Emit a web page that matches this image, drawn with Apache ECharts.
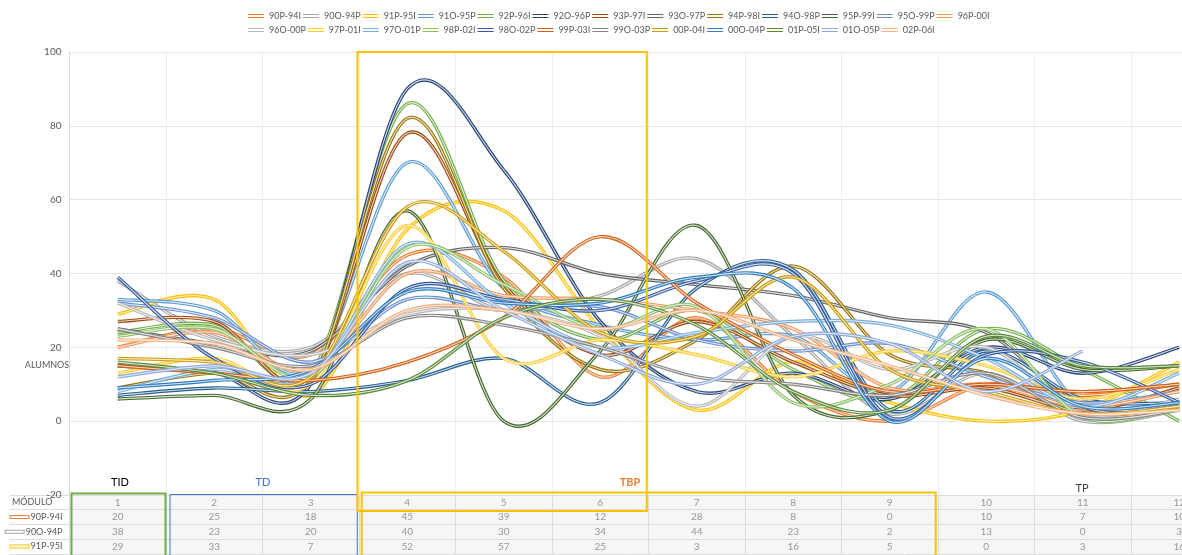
<!DOCTYPE html>
<html>
<head>
<meta charset="utf-8">
<script src="https://cdn.jsdelivr.net/npm/echarts@6/dist/echarts.min.js"></script>
<style>
  html, body { margin: 0; padding: 0; background: #ffffff; }
  #chart { width: 1182px; height: 555px; }
</style>
</head>
<body>
<div id="chart"></div>
<script>
// Módulos (eje horizontal y fila de cabecera de la tabla)
const modulos = [1, 2, 3, 4, 5, 6, 7, 8, 9, 10, 11, 12];

// Alumnos por módulo y promoción
const p90P_94I = [20, 25, 18, 45, 39, 12, 28, 8, 0, 10, 7, 10];
const p90O_94P = [38, 23, 20, 40, 30, 34, 44, 23, 2, 13, 0, 3];
const p91P_95I = [29, 33, 7, 52, 57, 25, 3, 16, 5, 0, 3, 16];
const p91O_95P = [33, 30, 14, 70, 36, 26, 22, 23, 8, 35, 4, 5];
const p92P_96I = [24, 26, 13, 86, 38, 22, 30, 14, 6, 25, 14, 0];
const p92O_96P = [15, 13, 10, 90, 68, 27, 8, 13, 6, 20, 13, 20];
const p93P_97I = [27, 27, 12, 78, 37, 18, 27, 16, 7, 9, 3, 9];
const p93O_97P = [25, 21, 19, 42, 47, 40, 37, 34, 28, 24, 4, 3];
const p94P_98I = [9, 13, 11, 82, 36, 14, 22, 42, 18, 13, 2, 4];
const p94O_98P = [7, 9, 8, 11, 17, 5, 36, 41, 3, 19, 6, 5];
const p95P_99I = [6, 7, 6, 57, 0, 19, 53, 7, 3, 22, 14, 15];
const p95O_99P = [32, 28, 16, 33, 30, 31, 22, 19, 21, 12, 5, 8];
const p96P_00I = [20, 24, 14, 40, 34, 33, 30, 25, 9, 10, 4, 8];
const p96O_00P = [32, 22, 18, 29, 30, 23, 4, 23, 14, 20, 2, 6];
const p97P_01I = [13, 17, 10, 53, 17, 22, 18, 12, 19, 15, 6, 14];
const p97O_01P = [8, 14, 12, 48, 32, 20, 24, 27, 26, 17, 4, 13];
const p98P_02I = [23, 25, 12, 47, 37, 25, 31, 5, 10, 25, 1, 4];
const p98O_02P = [39, 17, 10, 36, 33, 30, 38, 40, 1, 18, 16, 5];
const p99P_03I = [15, 13, 11, 16, 28, 50, 32, 18, 8, 10, 8, 10];
const p99O_03P = [25, 20, 15, 28, 26, 20, 12, 10, 7, 13, 1, 3];
const p00P_04I = [17, 16, 12, 58, 46, 24, 23, 39, 14, 8, 2, 4];
const p00O_04P = [9, 11, 14, 35, 32, 32, 39, 36, 0, 17, 4, 5];
const p01P_05I = [16, 13, 7, 11, 28, 33, 26, 8, 3, 23, 15, 15];
const p01O_05P = [12, 15, 13, 43, 30, 18, 10, 23, 21, 8, 19, null];
const p02P_06I = [22, 21, 14, 30, 30, 25, 30, 22, 15, 7, 2, 3];

const promociones = [
  '90P-94I', '90O-94P', '91P-95I', '91O-95P', '92P-96I', '92O-96P', '93P-97I',
  '93O-97P', '94P-98I', '94O-98P', '95P-99I', '95O-99P', '96P-00I', '96O-00P',
  '97P-01I', '97O-01P', '98P-02I', '98O-02P', '99P-03I', '99O-03P', '00P-04I',
  '00O-04P', '01P-05I', '01O-05P', '02P-06I'
];
const valores = [
  p90P_94I, p90O_94P, p91P_95I, p91O_95P, p92P_96I, p92O_96P, p93P_97I,
  p93O_97P, p94P_98I, p94O_98P, p95P_99I, p95O_99P, p96P_00I, p96O_00P,
  p97P_01I, p97O_01P, p98P_02I, p98O_02P, p99P_03I, p99O_03P, p00P_04I,
  p00O_04P, p01P_05I, p01O_05P, p02P_06I
];

// Paleta de Office (acentos y sus variantes)
const colores = [
  '#ED7D31', '#A5A5A5', '#FFC000', '#5B9BD5', '#70AD47',
  '#264478', '#9E480E', '#636363', '#997300', '#255E91', '#43682B',
  '#698ED0', '#F1975A', '#B7B7B7', '#FFCD33', '#7CAFDD', '#8CC168',
  '#335AA1', '#D35F12', '#848484', '#CC9900', '#327EC2', '#5A8A39',
  '#8FAADC', '#F4B183'
];

const FONT = 'Lato';
const GRID_LEFT = 69.5;
const GRID_RIGHT = -45.5;      // el área de trazado continúa más allá del borde derecho
const PLOT_TOP = 52;
const PLOT_BOTTOM = 495;
const ROW_H = 14.7;

const chart = echarts.init(document.getElementById('chart'), null, { renderer: 'canvas' });

// Curva suavizada tipo hoja de cálculo: tramos Bézier cuyos puntos de control
// siguen la dirección entre los puntos vecinos (1/6 de la diferencia).
// Cada tramo se pinta con trazo doble: línea de color y filete claro encima.
function tramoSuave(vals, color) {
  return function (params, api) {
    const i = params.dataIndex;
    if (i >= vals.length - 1 || vals[i] == null || vals[i + 1] == null) return null;
    const pt = k => api.coord([k, vals[k]]);
    const a = pt(i);
    const b = pt(i + 1);
    const prev = (i > 0 && vals[i - 1] != null) ? pt(i - 1) : a;
    const next = (i + 2 < vals.length && vals[i + 2] != null) ? pt(i + 2) : b;
    const shape = {
      x1: a[0], y1: a[1],
      cpx1: a[0] + (b[0] - prev[0]) / 6, cpy1: a[1] + (b[1] - prev[1]) / 6,
      cpx2: b[0] - (next[0] - a[0]) / 6, cpy2: b[1] - (next[1] - a[1]) / 6,
      x2: b[0], y2: b[1]
    };
    return {
      type: 'group',
      children: [
        { type: 'bezierCurve', shape: shape, style: { stroke: color, lineWidth: 3.4, fill: 'none' } },
        { type: 'bezierCurve', shape: shape, style: { stroke: 'rgba(255,255,255,0.8)', lineWidth: 1.1, fill: 'none' } }
      ]
    };
  };
}

const lineSeries = promociones.map((nombre, i) => ({
  name: nombre,
  type: 'custom',
  xAxisIndex: 0,
  yAxisIndex: 0,
  data: valores[i].map((v, k) => [k, v]),
  encode: { x: 0, y: 1 },
  renderItem: tramoSuave(valores[i], colores[i]),
  itemStyle: { color: colores[i] },
  silent: true,
  z: 2
}));

// Tabla de datos bajo el gráfico
const filasTabla = ['MÓDULO'].concat(promociones);
const celdas = [];
filasTabla.forEach((fila, r) => {
  modulos.forEach((m, c) => {
    const v = r === 0 ? m : valores[r - 1][c];
    if (v !== null && v !== undefined) celdas.push([c, r, v]);
  });
});

const richFilas = {
  t: { fontSize: 9, color: '#595959', fontFamily: FONT, padding: [0, 0, 0, 2] },
  m: { fontSize: 9, color: '#595959', fontFamily: FONT, padding: [0, 10, 0, 0] }
};
colores.forEach((c, i) => {
  richFilas['k' + i] = {
    width: 18, height: 2, backgroundColor: '#ffffff',
    borderColor: c, borderWidth: 1
  };
});

const option = {
  animation: false,
  backgroundColor: '#ffffff',
  textStyle: { fontFamily: FONT },
  legend: {
    data: promociones,
    top: 5,
    left: 243,
    width: 750,
    itemWidth: 16,
    itemHeight: 4,
    itemGap: 2,
    icon: 'path://M0,0H16V1H0Z M0,3H16V4H0Z',
    textStyle: { fontSize: 9, color: '#595959', fontFamily: FONT, lineHeight: 12 },
    selectedMode: false
  },
  grid: [
    {
      left: GRID_LEFT, right: GRID_RIGHT, top: PLOT_TOP, height: PLOT_BOTTOM - PLOT_TOP,
      containLabel: false, outerBoundsMode: 'none'
    },
    {
      left: GRID_LEFT, right: GRID_RIGHT, top: PLOT_BOTTOM, height: ROW_H * filasTabla.length,
      show: true, backgroundColor: '#f5f6f8', borderWidth: 0,
      containLabel: false, outerBoundsMode: 'none'
    }
  ],
  xAxis: [
    {
      gridIndex: 0, type: 'category', data: modulos, boundaryGap: true,
      axisLine: { show: false }, axisTick: { show: false }, axisLabel: { show: false },
      splitLine: { show: true, interval: 0, lineStyle: { color: '#ededed', width: 1 } }
    },
    {
      gridIndex: 1, type: 'category', data: modulos, boundaryGap: true,
      axisLine: { show: false }, axisTick: { show: false }, axisLabel: { show: false },
      splitLine: { show: true, interval: 0, lineStyle: { color: '#dcdcdc', width: 1 } }
    }
  ],
  yAxis: [
    {
      gridIndex: 0, type: 'value', min: -20, max: 100, interval: 20,
      axisLine: { show: true, lineStyle: { color: '#d9d9d9' } },
      axisTick: { show: false },
      axisLabel: { color: '#595959', fontSize: 10, margin: 8, fontFamily: FONT },
      splitLine: { show: true, lineStyle: { color: '#e6e6e6', width: 1 } }
    },
    {
      gridIndex: 1, type: 'category', inverse: true, data: filasTabla,
      axisLine: { show: false },
      axisTick: { show: true, interval: 0, length: 60, lineStyle: { color: '#dcdcdc' } },
      axisLabel: {
        interval: 0, margin: 7,
        formatter: (val, idx) => idx === 0 ? '{m|' + val + '}' : '{k' + (idx - 1) + '|}{t|' + val + '}',
        rich: richFilas
      },
      splitLine: { show: true, interval: 0, lineStyle: { color: '#dcdcdc', width: 1 } }
    }
  ],
  series: lineSeries.concat([{
    name: 'tabla',
    type: 'scatter',
    xAxisIndex: 1,
    yAxisIndex: 1,
    data: celdas,
    symbolSize: 1,
    itemStyle: { color: 'rgba(0,0,0,0)' },
    label: {
      show: true, position: 'inside',
      formatter: p => String(p.value[2]),
      color: '#7f7f7f', fontSize: 10, fontFamily: FONT
    },
    silent: true,
    z: 3
  }]),
  graphic: [
    { type: 'text', z: 50, silent: true, x: 47, y: 365,
      style: { text: 'ALUMNOS', fontSize: 9, fill: '#595959', fontFamily: FONT, align: 'center', verticalAlign: 'middle' } },
    // Bloques de módulos
    { type: 'rect', z: 100, silent: true,
      shape: { x: 71.5, y: 493.5, width: 94, height: 90 },
      style: { fill: 'none', stroke: '#70AD47', lineWidth: 2 } },
    { type: 'rect', z: 100, silent: true,
      shape: { x: 170, y: 494.5, width: 187.3, height: 90 },
      style: { fill: 'none', stroke: '#4472C4', lineWidth: 1 } },
    { type: 'rect', z: 100, silent: true,
      shape: { x: 357.5, y: 52, width: 289.3, height: 459 },
      style: { fill: 'none', stroke: '#FFC000', lineWidth: 2 } },
    { type: 'rect', z: 100, silent: true,
      shape: { x: 361.7, y: 492.5, width: 574, height: 90 },
      style: { fill: 'none', stroke: '#FFC000', lineWidth: 2 } },
    { type: 'text', z: 100, silent: true, x: 120, y: 482,
      style: { text: 'TID', fontSize: 11, fill: '#000000', fontFamily: FONT, align: 'center', verticalAlign: 'middle' } },
    { type: 'text', z: 100, silent: true, x: 263, y: 482,
      style: { text: 'TD', fontSize: 11, fill: '#4472C4', fontFamily: FONT, align: 'center', verticalAlign: 'middle' } },
    { type: 'text', z: 100, silent: true, x: 630, y: 482,
      style: { text: 'TBP', fontSize: 11, fontWeight: 'bold', fill: '#ED7D31', fontFamily: FONT, align: 'center', verticalAlign: 'middle' } },
    { type: 'text', z: 100, silent: true, x: 1082, y: 488,
      style: { text: 'TP', fontSize: 11, fill: '#404040', fontFamily: FONT, align: 'center', verticalAlign: 'middle' } }
  ]
};

chart.setOption(option);
</script>
</body>
</html>
